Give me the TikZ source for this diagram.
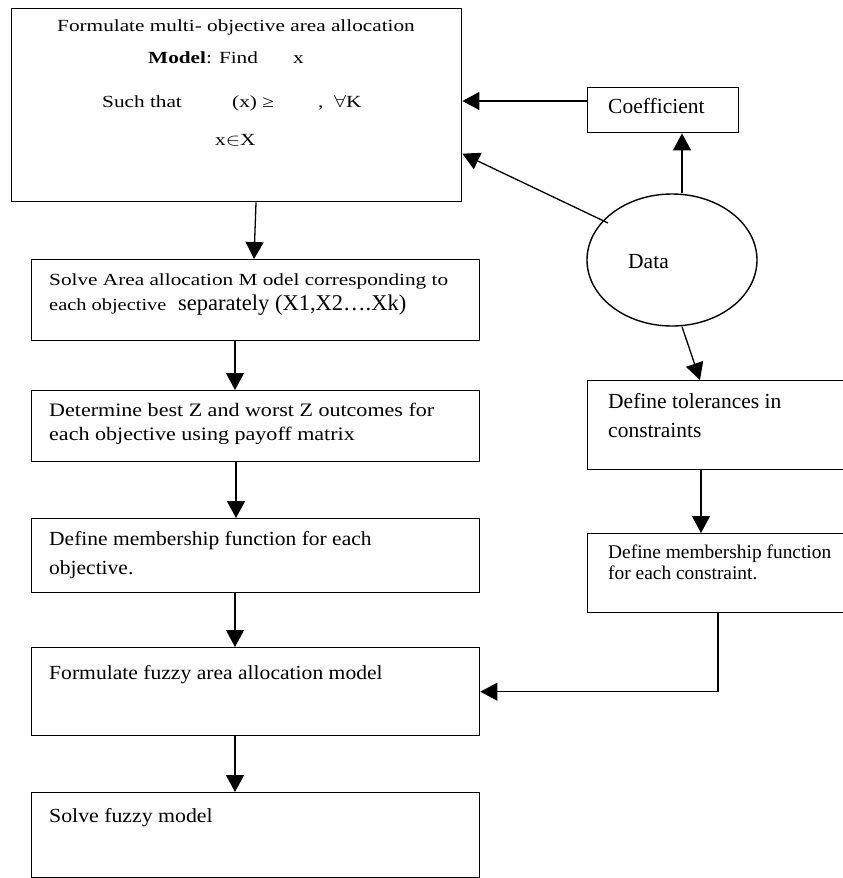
\documentclass[tikz,border=0pt]{standalone}
\usepackage{fontspec}
\setmainfont{Liberation Serif}
\usetikzlibrary{arrows.meta,shapes.geometric}
\tikzset{
  box/.style={draw, line width=1.4pt, anchor=north west, inner sep=0pt},
  arr/.style={line width=1.3pt, -{Triangle[length=17pt,width=18pt]}},
  txt/.style={inner sep=0pt, anchor=base west},
  fA/.style={font=\fontsize{17}{20}\selectfont},
  fB/.style={font=\fontsize{19}{22}\selectfont},
  fC/.style={font=\fontsize{20}{24}\selectfont},
  fD/.style={font=\fontsize{21.5}{25}\selectfont},
}
\begin{document}
\begin{tikzpicture}[x=1pt,y=-1pt]
\useasboundingbox (0,0) rectangle (843,878);
\clip (0,0) rectangle (843,878);
% boxes
\node[box, minimum width=450pt, minimum height=193pt] (b1) at (11,8) {};
\node[box, minimum width=448pt, minimum height=81pt] (b2) at (31,259) {};
\node[box, minimum width=448pt, minimum height=71pt] (b3) at (31,390) {};
\node[box, minimum width=448pt, minimum height=74pt] (b4) at (31,518) {};
\node[box, minimum width=448pt, minimum height=88pt] (b5) at (31,647) {};
\node[box, minimum width=448pt, minimum height=85pt] (b6) at (31,792) {};
\node[box, minimum width=151pt, minimum height=45pt] (coef) at (587,87) {};
\node[box, minimum width=270pt, minimum height=89pt] (tol) at (587,380) {};
\node[box, minimum width=270pt, minimum height=79pt] (con) at (587,533) {};
\node[draw, line width=1.4pt, ellipse, inner sep=0pt, minimum width=170pt, minimum height=132pt] (data) at (672,260) {};

% box 1 text
\node[inner sep=0pt, anchor=base, fA] (t1a) at (236,31) {\scalebox{1.25}[1]{Formulate multi- objective area allocation}};
\node[txt, fA] (t1b) at (148,63) {\scalebox{1.25}[1]{\textbf{Model}: Find}};
\node[txt, fA] (t1c) at (293,63) {\scalebox{1.25}[1]{x}};
\node[txt, fA] (t1d) at (102,107) {\scalebox{1.25}[1]{Such that}};
\node[txt, fA] (t1e) at (232,107) {\scalebox{1.25}[1]{(x) ≥}};
\node[txt, fA] (t1f) at (318,107) {\scalebox{1.25}[1]{,\ \ $\forall$K}};
\node[txt, fA] (t1g) at (215,145) {\scalebox{1.25}[1]{x$\in$X}};

% box 2 text
\node[txt, fA] (t2a) at (49,285) {\scalebox{1.25}[1]{Solve Area allocation M odel corresponding to}};
\node[txt, fA] (t2b) at (49,310) {\scalebox{1.2}[1]{each objective}};
\node[txt, font=\fontsize{22.5}{26}\selectfont] (t2c) at (178,310) {separately (X1,X2….Xk)};

% box 3 text
\node[txt, fB] (t3a) at (49,416) {\scalebox{1.16}[1]{Determine best Z and worst Z outcomes for}};
\node[txt, fB] (t3b) at (49,440) {\scalebox{1.16}[1]{each objective using payoff matrix}};

% box 4-6 text
\node[txt, fC] (t4a) at (49,545) {\scalebox{1.075}[1]{Define membership function for each}};
\node[txt, fC] (t4b) at (49,574) {\scalebox{1.075}[1]{objective.}};
\node[txt, fC] (t5) at (49,679) {\scalebox{1.08}[1]{Formulate fuzzy area allocation model}};
\node[txt, fC] (t6) at (49,822) {\scalebox{1.09}[1]{Solve fuzzy model}};

% right side text
\node[txt, fD] (tc) at (608,113) {Coefficient};
\node[txt, fD] (td) at (628,268) {Data};
\node[txt, fD] (tt1) at (608,408) {Define tolerances in};
\node[txt, fD] (tt2) at (608,437) {constraints};
\node[txt, font=\fontsize{19.4}{22}\selectfont] (tm1) at (608,558) {Define membership function};
\node[txt, font=\fontsize{19.4}{22}\selectfont] (tm2) at (608,579) {for each constraint.};

% connectors
\draw[arr] ([xshift=245pt]b1.south west) -- ([xshift=223pt]b2.north west);
\draw[arr] ([xshift=204pt]b2.south west) -- ([xshift=204pt]b3.north west);
\draw[arr] ([xshift=205pt]b3.south west) -- ([xshift=205pt]b4.north west);
\draw[arr] ([xshift=204pt]b4.south west) -- ([xshift=204pt]b5.north west);
\draw[arr] ([xshift=204pt]b5.south west) -- ([xshift=204pt]b6.north west);
\coordinate (c1) at (587,101);
\draw[arr] (c1) -- (c1 -| b1.east);
\draw[arr] ([xshift=10pt]data.north) -- ([xshift=10pt]data.north |- coef.south);
\coordinate (d1) at (608,223);
\draw[arr] (d1) -- ([yshift=-48.5pt]b1.east);
\draw[arr] ([xshift=10pt]data.south) -- ([xshift=113pt]tol.north west);
\draw[arr] ([xshift=114pt]tol.south west) -- ([xshift=114pt]con.north west);
\draw[arr] ([xshift=131pt]con.south west) |- (b5.east);
\end{tikzpicture}
\end{document}
